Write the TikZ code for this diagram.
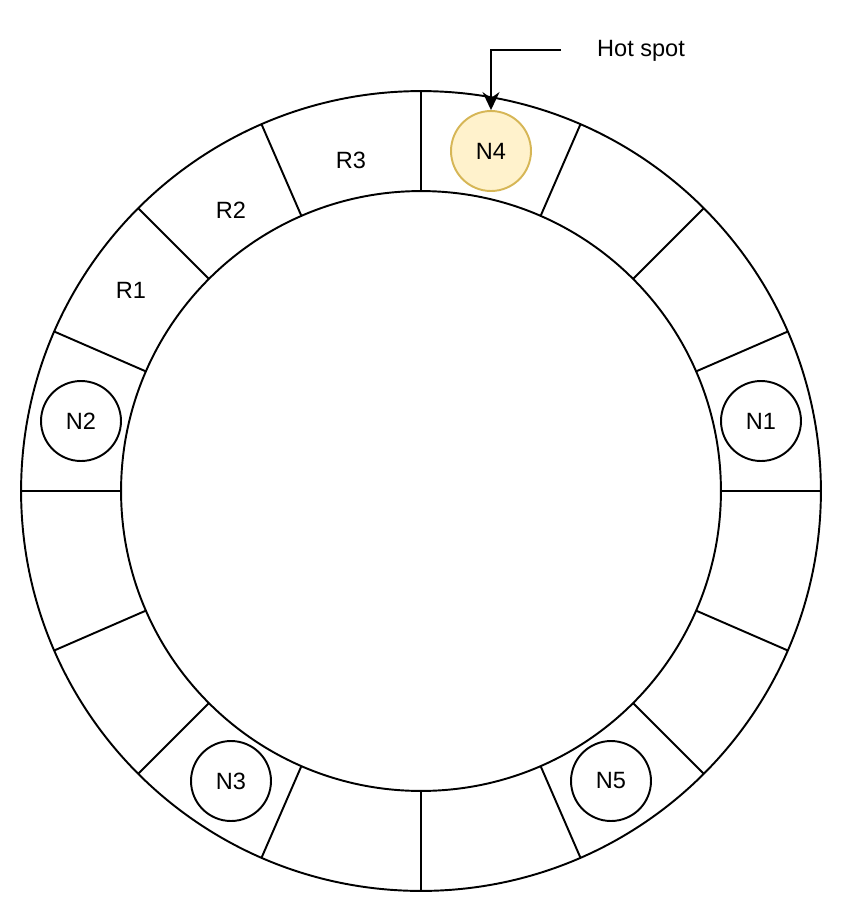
\documentclass[tikz,border=0pt]{standalone}
\usepackage{fontspec}
\setmainfont{Liberation Sans}
\usetikzlibrary{positioning, arrows.meta}
\definecolor{hotfill}{HTML}{FFF2CC}
\definecolor{hotdraw}{HTML}{D6B656}

\begin{document}
\begin{tikzpicture}[
    % GLOBAL CFG
    x=0.02cm, y=-0.02cm,
    font=\fontsize{13.4}{16}\selectfont,
    >={Stealth[length=3.6mm, width=3.4mm, inset=1.2mm]},
    % Styles
    ring/.style={% For the two circles of the ring
        draw=black,
        line width=1.1pt,
    },
    spoke/.style={% For the lines between ranges
        draw=black,
        line width=1.1pt,
    },
    server/.style={% For nodes on the ring
        circle,
        draw=black,
        line width=1.1pt,
        minimum size=1.6cm,
        inner sep=0pt,
        fill=white,
    },
    hot/.style={% For the busy node
        server,
        draw=hotdraw,
        fill=hotfill,
    },
    rlabel/.style={% For range labels
        inner sep=0pt,
    },
    ArrowH/.style={% Arrow to the hot spot
        line width=1.1pt,
    },
    ]

    \useasboundingbox (0,0) rectangle (844,914);

    % Draw ring
    \coordinate (O) at (421,491);
    \draw [ring] (O) circle (8cm);
    \draw [ring] (O) circle (6cm);
    \foreach \a in {0,23.5,45,66.5,90,113.5,135,156.5,180,203.5,225,246.5,270,293.5,315,336.5}
        \draw [spoke] (O) ++(\a:6cm) -- ++(\a:2cm);

    % Draw nodes named n#
    \node [server] (n1) at (761,421) {N1};
    \node [server] (n2) at (81,421) {N2};
    \node [server] (n3) at (231,781) {N3};
    \node [hot] (n4) at (491,151) {N4};
    \node [server] (n5) at (611,781) {N5};

    % Ranges
    \node [rlabel] (r1) at (131,290) {R1};
    \node [rlabel] (r2) at (231,210) {R2};
    \node [rlabel] (r3) at (351,160) {R3};

    % Hot spot
    \node [rlabel] (hotlbl) at (641,51) {Hot spot};
    \coordinate (hs) at (561,50);
    \draw [->, ArrowH] (hs) -| (n4);

\end{tikzpicture}
\end{document}
